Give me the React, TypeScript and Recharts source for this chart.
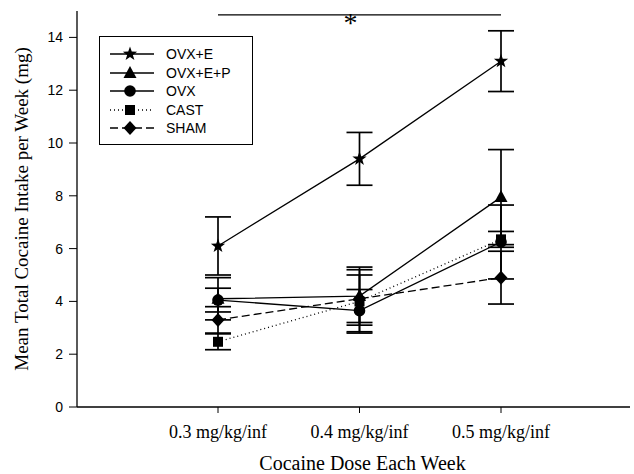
import React from "react";
import {
  LineChart,
  Line,
  XAxis,
  YAxis,
  ErrorBar,
  ReferenceLine,
} from "recharts";

const doses = ["0.3 mg/kg/inf", "0.4 mg/kg/inf", "0.5 mg/kg/inf"];
const yTicks = [0, 2, 4, 6, 8, 10, 12, 14];

const ovxE = [6.1, 9.4, 13.1];
const ovxEErr = [1.1, 1.0, 1.15];
const ovxEP = [4.1, 4.2, 7.95];
const ovxEPErr = [0.8, 1.1, 1.8];
const ovx = [4.05, 3.65, 6.25];
const ovxErr = [0.45, 0.8, 1.4];
const cast = [2.47, 4.0, 6.35];
const castErr = [0.3, 1.2, 0.3];
const sham = [3.3, 4.1, 4.9];
const shamErr = [0.5, 0.9, 1.0];

const data = doses.map((dose, i) => ({
  dose,
  ovxE: ovxE[i],
  ovxEErr: ovxEErr[i],
  ovxEP: ovxEP[i],
  ovxEPErr: ovxEPErr[i],
  ovx: ovx[i],
  ovxErr: ovxErr[i],
  cast: cast[i],
  castErr: castErr[i],
  sham: sham[i],
  shamErr: shamErr[i],
}));

type Shape = "star" | "triangle" | "circle" | "square" | "diamond";

const Marker = ({ shape, cx, cy }: { shape: Shape; cx: number; cy: number }) => {
  if (shape === "star") {
    const pts: string[] = [];
    for (let k = 0; k < 10; k++) {
      const r = k % 2 === 0 ? 7.5 : 3;
      const a = -Math.PI / 2 + (k * Math.PI) / 5;
      pts.push(`${cx + r * Math.cos(a)},${cy + r * Math.sin(a)}`);
    }
    return <polygon points={pts.join(" ")} fill="#000" />;
  }
  if (shape === "triangle")
    return (
      <polygon
        points={`${cx},${cy - 7} ${cx - 6.5},${cy + 5} ${cx + 6.5},${cy + 5}`}
        fill="#000"
      />
    );
  if (shape === "circle") return <circle cx={cx} cy={cy} r={5.8} fill="#000" />;
  if (shape === "square")
    return <rect x={cx - 5} y={cy - 5} width={10} height={10} fill="#000" />;
  return (
    <polygon
      points={`${cx},${cy - 7} ${cx + 6.5},${cy} ${cx},${cy + 7} ${cx - 6.5},${cy}`}
      fill="#000"
    />
  );
};

const dotOf = (shape: Shape) => (props: any) => (
  <Marker key={`${shape}-${props.index}`} shape={shape} cx={props.cx} cy={props.cy} />
);

const legendItems: { name: string; shape: Shape; dash?: string }[] = [
  { name: "OVX+E", shape: "star" },
  { name: "OVX+E+P", shape: "triangle" },
  { name: "OVX", shape: "circle" },
  { name: "CAST", shape: "square", dash: "1 3" },
  { name: "SHAM", shape: "diamond", dash: "8 4" },
];

const ChartLegend = () => (
  <div
    style={{
      position: "absolute",
      left: 99,
      top: 36,
      border: "1px solid #000",
      width: 154,
      height: 109,
      boxSizing: "border-box",
      paddingTop: 8,
      background: "#fff",
    }}
  >
    {legendItems.map((it) => (
      <div
        key={it.name}
        style={{ display: "flex", alignItems: "center", height: 18.5 }}
      >
        <svg width={66} height={18} style={{ flex: "none" }}>
          <line
            x1={10}
            x2={54}
            y1={9}
            y2={9}
            stroke="#000"
            strokeWidth={1.3}
            strokeDasharray={it.dash}
          />
          <Marker shape={it.shape} cx={30} cy={9} />
        </svg>
        <span
          style={{
            fontFamily: "'Liberation Sans', Arial, sans-serif",
            fontSize: 14,
            color: "#000",
          }}
        >
          {it.name}
        </span>
      </div>
    ))}
  </div>
);

const tickSerif = { fontFamily: "'Liberation Serif', 'Times New Roman', serif", fontSize: 18, fill: "#000" };
const tickSans = { fontFamily: "'Liberation Sans', Arial, sans-serif", fontSize: 14, fill: "#000" };

export default function App() {
  return (
    <div style={{ position: "relative", width: 634, height: 474, background: "#fff" }}>
      <style>{`body{margin:0}`}</style>
      <LineChart
        width={634}
        height={474}
        data={data}
        margin={{ top: 11, right: 4, bottom: 0, left: 0 }}
      >
        <XAxis
          dataKey="dose"
          padding={{ left: 141, right: 129 }}
          height={67}
          axisLine={{ stroke: "#000", strokeWidth: 1.3 }}
          tickLine={{ stroke: "#000" }}
          tickSize={6}
          tickMargin={12}
          tick={tickSerif}
          label={{
            value: "Cocaine Dose Each Week",
            position: "insideBottom",
            offset: 4,
            dx: 9,
            style: { ...tickSerif, fontSize: 20 },
          }}
        />
        <YAxis
          type="number"
          domain={[0, 15]}
          ticks={yTicks}
          width={77}
          axisLine={{ stroke: "#000", strokeWidth: 1.3 }}
          tickLine={{ stroke: "#000" }}
          tickSize={8}
          tickMargin={6}
          tick={tickSans}
          label={{
            value: "Mean Total Cocaine Intake per Week (mg)",
            angle: -90,
            position: "center",
            dx: -17,
            style: { ...tickSerif, fontSize: 19, textAnchor: "middle" },
          }}
        />
        <ReferenceLine
          segment={[
            { x: doses[0], y: 14.85 },
            { x: doses[2], y: 14.85 },
          ]}
          stroke="#000"
          strokeWidth={1.2}
          label={{
            value: "*",
            position: "center",
            dy: 7,
            dx: -9,
            style: { ...tickSerif, fontSize: 28 },
          }}
        />
        <Line
          dataKey="ovxEP"
          stroke="#000"
          strokeWidth={1.3}
          dot={dotOf("triangle")}
          isAnimationActive={false}
        >
          <ErrorBar dataKey="ovxEPErr" width={13} stroke="#000" strokeWidth={1.7} direction="y" />
        </Line>
        <Line
          dataKey="ovx"
          stroke="#000"
          strokeWidth={1.3}
          dot={dotOf("circle")}
          isAnimationActive={false}
        >
          <ErrorBar dataKey="ovxErr" width={13} stroke="#000" strokeWidth={1.7} direction="y" />
        </Line>
        <Line
          dataKey="cast"
          stroke="#000"
          strokeWidth={1.3}
          strokeDasharray="1 3"
          dot={dotOf("square")}
          isAnimationActive={false}
        >
          <ErrorBar dataKey="castErr" width={13} stroke="#000" strokeWidth={1.7} direction="y" />
        </Line>
        <Line
          dataKey="sham"
          stroke="#000"
          strokeWidth={1.3}
          strokeDasharray="8 4"
          dot={dotOf("diamond")}
          isAnimationActive={false}
        >
          <ErrorBar dataKey="shamErr" width={13} stroke="#000" strokeWidth={1.7} direction="y" />
        </Line>
        <Line
          dataKey="ovxE"
          stroke="#000"
          strokeWidth={1.3}
          dot={dotOf("star")}
          isAnimationActive={false}
        >
          <ErrorBar dataKey="ovxEErr" width={13} stroke="#000" strokeWidth={1.7} direction="y" />
        </Line>
      </LineChart>
      <ChartLegend />
    </div>
  );
}
